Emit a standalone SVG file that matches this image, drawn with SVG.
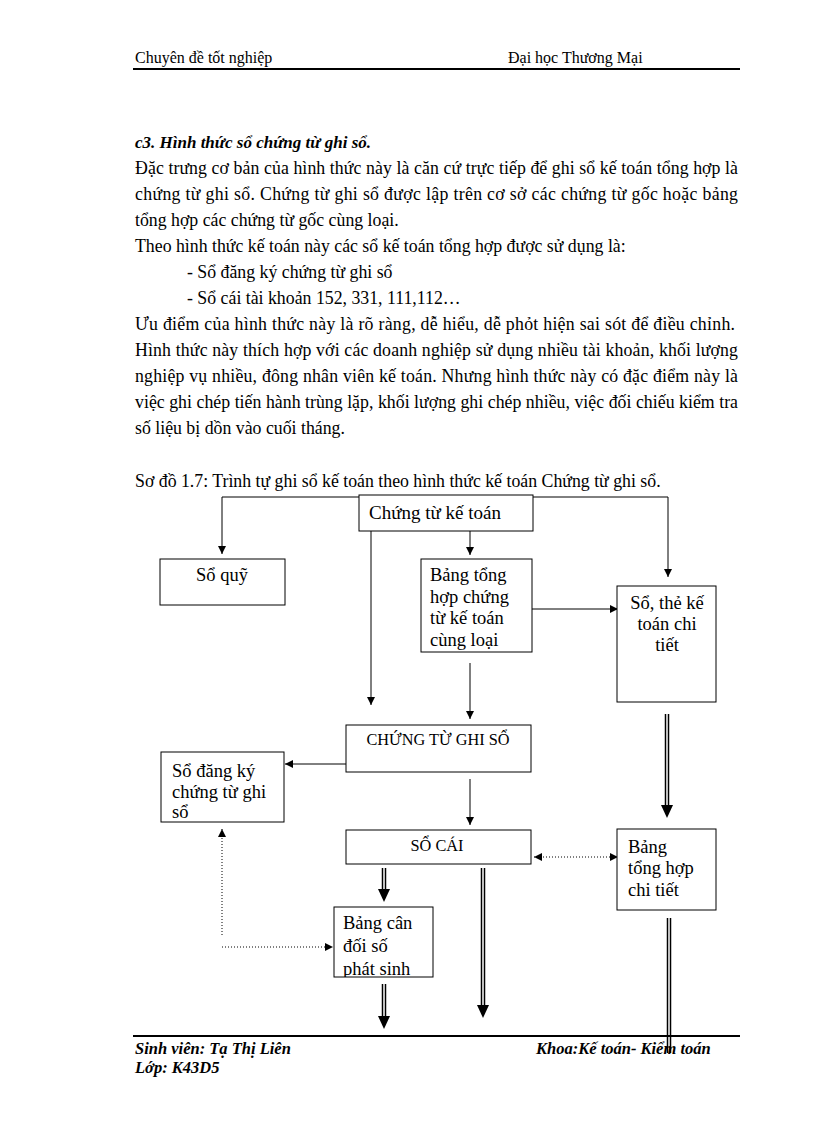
<svg xmlns="http://www.w3.org/2000/svg" width="816" height="1123" viewBox="0 0 816 1123">
<style>
.t{font-family:"Liberation Serif","Times New Roman",serif;font-size:17.8px;fill:#000}
.h{font-family:"Liberation Serif","Times New Roman",serif;font-size:16px;fill:#000}
.bi{font-family:"Liberation Serif","Times New Roman",serif;font-size:17px;font-weight:bold;font-style:italic;fill:#000}
.bf{font-family:"Liberation Serif","Times New Roman",serif;font-size:16.5px;font-weight:bold;font-style:italic;fill:#000}
.n{font-family:"Liberation Serif","Times New Roman",serif;font-size:18.5px;fill:#000}
.u{font-family:"Liberation Serif","Times New Roman",serif;font-size:16.3px;fill:#000}
.box{fill:#fff;stroke:#000;stroke-width:1}
.ln{fill:none;stroke:#000;stroke-width:1}
.dot{fill:none;stroke:#000;stroke-width:1;stroke-dasharray:1 2}
.dbo{fill:none;stroke:#000;stroke-width:4.5}
.dbi{fill:none;stroke:#fff;stroke-width:1.5}
.rule{stroke:#000;stroke-width:2}
</style>
<defs>
<marker id="ah" markerUnits="userSpaceOnUse" markerWidth="8" markerHeight="8" refX="8" refY="4" orient="auto">
<path d="M0,0 L8,4 L0,8 z" fill="#000"/>
</marker>
<marker id="ahs" markerUnits="userSpaceOnUse" markerWidth="8" markerHeight="8" refX="0" refY="4" orient="auto">
<path d="M8,0 L0,4 L8,8 z" fill="#000"/>
</marker>
<clipPath id="clipBcd"><rect x="334" y="907" width="100" height="70"/></clipPath>
</defs>
<rect x="0" y="0" width="816" height="1123" fill="#fff"/>

<g id="header">
<text class="h" x="135" y="63">Chuyên  đề tốt nghiệp</text>
<text class="h" x="508" y="63">Đại học Thương  Mại</text>
<line class="rule" x1="133" y1="69" x2="740" y2="69"/>
</g>

<g id="body">
<text class="bi" x="135" y="148">c3. Hình  thức sổ chứng từ ghi sổ.</text>
<text class="t" x="135" y="174" textLength="603" lengthAdjust="spacing">Đặc trưng cơ bản  của hình  thức này là căn cứ trực tiếp để ghi  sổ kế toán tổng hợp là</text>
<text class="t" x="135" y="200" textLength="603" lengthAdjust="spacing">chứng  từ ghi  sổ. Chứng  từ ghi  sổ được lập  trên cơ sở các chứng  từ gốc hoặc bảng</text>
<text class="t" x="135" y="226">tổng hợp  các chứng từ gốc cùng loại.</text>
<text class="t" x="135" y="252">Theo hình thức kế toán này  các sổ kế toán tổng hợp được sử dụng  là:</text>
<text class="t" x="187" y="278">-  Sổ đăng ký chứng từ ghi sổ</text>
<text class="t" x="187" y="304">-  Sổ cái tài khoản 152, 331, 111,112…</text>
<text class="t" x="135" y="330" textLength="600" lengthAdjust="spacing">Ưu điểm của hình thức này  là rõ ràng, dễ hiểu,  dễ phỏt hiện sai sót để điều chỉnh.</text>
<text class="t" x="135" y="356" textLength="603" lengthAdjust="spacing">Hình thức này thích hợp  với các doanh nghiệp  sử dụng nhiều tài khoản,  khối lượng</text>
<text class="t" x="135" y="382" textLength="603" lengthAdjust="spacing">nghiệp  vụ nhiều,  đông nhân  viên  kế toán.  Nhưng  hình  thức này  có đặc điểm này  là</text>
<text class="t" x="135" y="408" textLength="603" lengthAdjust="spacing">việc ghi chép tiến hành  trùng lặp, khối lượng  ghi chép nhiều,  việc đối chiếu kiểm tra</text>
<text class="t" x="135" y="434">số liệu bị dồn vào  cuối tháng.</text>
<text class="t" x="135" y="487">Sơ đồ 1.7: Trình  tự ghi  sổ kế toán theo hình thức kế toán Chứng  từ ghi  sổ.</text>
</g>

<g id="connectors">
<polyline class="ln" points="222,554 222,497 359,497" marker-start="url(#ahs)"/>
<polyline class="ln" points="533,497 668,497 668,577" marker-end="url(#ah)"/>
<line class="ln" x1="470" y1="531" x2="470" y2="555" marker-end="url(#ah)"/>
<line class="ln" x1="371" y1="522" x2="371" y2="705" marker-end="url(#ah)"/>
<line class="ln" x1="532" y1="609" x2="618" y2="609" marker-end="url(#ah)"/>
<line class="ln" x1="470" y1="663" x2="470" y2="719" marker-end="url(#ah)"/>
<line class="ln" x1="346" y1="764" x2="285" y2="764" marker-end="url(#ah)"/>
<line class="ln" x1="470" y1="779" x2="470" y2="825" marker-end="url(#ah)"/>
<line class="dot" x1="534" y1="857" x2="618" y2="857" marker-start="url(#ahs)" marker-end="url(#ah)"/>
<line class="dot" x1="222" y1="935" x2="222" y2="829" marker-end="url(#ah)"/>
<line class="dot" x1="222" y1="947" x2="333" y2="947" marker-end="url(#ah)"/>
<g id="dbl1"><line class="dbo" x1="667" y1="714" x2="667" y2="806"/><line class="dbi" x1="667" y1="714" x2="667" y2="806"/><polygon points="661,805 673,805 667,818" fill="#000"/></g>
<g id="dbl2"><line class="dbo" x1="384" y1="868" x2="384" y2="890"/><line class="dbi" x1="384" y1="868" x2="384" y2="890"/><polygon points="378,889 390,889 384,902" fill="#000"/></g>
<g id="dbl3"><line class="dbo" x1="483" y1="868" x2="483" y2="1006"/><line class="dbi" x1="483" y1="868" x2="483" y2="1006"/><polygon points="477,1005 489,1005 483,1018" fill="#000"/></g>
<g id="dbl4"><line class="dbo" x1="384" y1="984" x2="384" y2="1017"/><line class="dbi" x1="384" y1="984" x2="384" y2="1017"/><polygon points="378,1016 390,1016 384,1029" fill="#000"/></g>
<g id="dbl5"><line class="dbo" x1="669" y1="918" x2="669" y2="1053"/><line class="dbi" x1="669" y1="918" x2="669" y2="1053"/></g>
</g>

<g id="n-chungtu">
<rect class="box" x="359" y="495" width="174" height="36"/>
<text class="n" x="369" y="519" style="font-size:19px">Chứng từ kế toán</text>
</g>
<g id="n-soquy">
<rect class="box" x="160" y="559" width="125" height="46"/>
<text class="n" x="222" y="581" text-anchor="middle">Sổ quỹ</text>
</g>
<g id="n-bangth">
<rect class="box" x="421" y="559" width="111" height="93"/>
<text class="n" x="430" y="581">Bảng tổng</text>
<text class="n" x="430" y="603">hợp chứng</text>
<text class="n" x="430" y="624">từ kế toán</text>
<text class="n" x="430" y="646">cùng loại</text>
</g>
<g id="n-sothe">
<rect class="box" x="617" y="586" width="99" height="116"/>
<text class="n" x="667" y="609" text-anchor="middle">Sổ, thẻ kế</text>
<text class="n" x="667" y="630" text-anchor="middle">toán chi</text>
<text class="n" x="667" y="651" text-anchor="middle">tiết</text>
</g>
<g id="n-ctgs">
<rect class="box" x="346" y="725" width="185" height="47"/>
<text class="u" x="438" y="745" text-anchor="middle">CHỨNG TỪ GHI SỔ</text>
</g>
<g id="n-sodk">
<rect class="box" x="161" y="752" width="123" height="70"/>
<text class="n" x="172" y="777">Sổ đăng ký</text>
<text class="n" x="172" y="798">chứng từ ghi</text>
<text class="n" x="172" y="818">sổ</text>
</g>
<g id="n-socai">
<rect class="box" x="346" y="830" width="185" height="34"/>
<text class="u" x="437" y="851" text-anchor="middle">SỔ CÁI</text>
</g>
<g id="n-bthct">
<rect class="box" x="617" y="829" width="99" height="81"/>
<text class="n" x="628" y="853">Bảng</text>
<text class="n" x="628" y="874">tổng hợp</text>
<text class="n" x="628" y="896">chi tiết</text>
</g>
<g id="n-bcd">
<rect class="box" x="334" y="907" width="99" height="70"/>
<g clip-path="url(#clipBcd)">
<text class="n" x="343" y="929">Bảng cân</text>
<text class="n" x="343" y="952">đối số</text>
<text class="n" x="343" y="975">phát sinh</text>
</g>
</g>

<g id="footer">
<line class="rule" x1="133" y1="1036" x2="740" y2="1036"/>
<text class="bf" x="135" y="1054">Sinh viên: Tạ Thị Liên</text>
<text class="bf" x="135" y="1073">Lớp: K43D5</text>
<text class="bf" x="536" y="1054">Khoa:Kế toán- Kiểm toán</text>
</g>
</svg>
